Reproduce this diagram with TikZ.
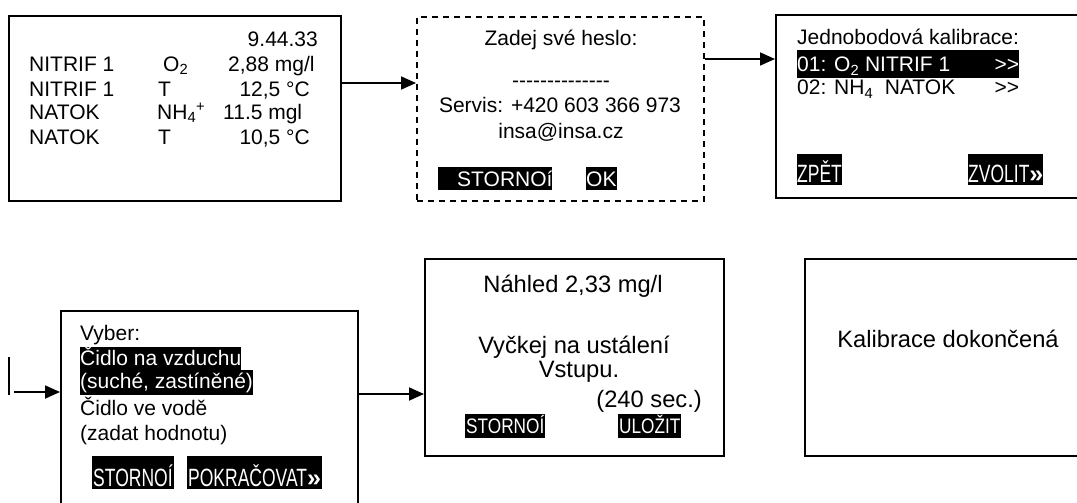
\documentclass[tikz,border=0pt]{standalone}
\usepackage{fontspec}
\setmainfont{Liberation Sans}
\usepackage{graphicx}
\usetikzlibrary{shapes,arrows,arrows.meta,positioning}

\newcommand\fs{\fontsize{21}{25}\selectfont}
\newcommand\fb{\fontsize{23.7}{28}\selectfont}
\newcommand\fn{\fontsize{25}{28}\selectfont}
\newcommand\narrow[1]{\scalebox{0.82}[1]{#1}}
\newcommand\slim[1]{\scalebox{0.7}[1]{\fn #1}}
\newcommand\dbl{{\fontsize{25}{25}\selectfont\textbf{»}}}
\newcommand\dd{\mbox{-}\mbox{-}}
\newcommand\gt{\mbox{>}\mbox{>}}

\tikzset{
  screen/.style={draw, line width=1.8pt, inner sep=0pt, anchor=north west},
  txt/.style={anchor=base west, inner sep=0pt, font=\fs},
  ctxt/.style={anchor=base, inner sep=0pt, font=\fs},
  hl/.style={txt, fill=black, text=white},
  btn/.style={hl, inner xsep=1pt},
  arr/.style={line width=1.8pt, -{Triangle[length=15pt,width=13pt]}}
}

\begin{document}
\begin{tikzpicture}[x=1pt,y=-1pt]
  \useasboundingbox (0,0) rectangle (1077,503);

  \node[screen, minimum width=332pt, minimum height=185pt] (status) at (8,15) {};
  \node[screen, dash pattern=on 6pt off 5pt, minimum width=287pt, minimum height=184pt] (heslo) at (416,16) {};
  \node[screen, minimum width=320pt, minimum height=183pt] (volba) at (775,14) {};
  \node[screen, minimum width=297pt, minimum height=220pt] (vyber) at (60,310) {};
  \node[screen, minimum width=299pt, minimum height=197pt] (nahled) at (424,258) {};
  \node[screen, minimum width=290pt, minimum height=197pt] (hotovo) at (804,258) {};

  \node[txt, anchor=base east] (cas) at (318,47) {9.44.33};
  \node[txt] (m1) at (29,71) {NITRIF 1};
  \node[txt] (m2) at (29,96) {NITRIF 1};
  \node[txt] (m3) at (29,119) {NATOK};
  \node[txt] (m4) at (29,144) {NATOK};
  \node[txt] (v1) at (163,71) {O\textsubscript{2}};
  \node[txt] (v2) at (158,96) {T};
  \node[txt] (v3) at (157,119) {NH\textsubscript{4}\textsuperscript{+}};
  \node[txt] (v4) at (158,144) {T};
  \node[txt] (h1) at (228,71) {2,88 mg/l};
  \node[txt, anchor=base east] (h2) at (310,96) {12,5 °C};
  \node[txt] (h3) at (223,119) {11.5 mgl};
  \node[txt, anchor=base east] (h4) at (310,144) {10,5 °C};

  \node[ctxt] (zadej) at (561,46) {Zadej své heslo:};
  \node[ctxt] (pole) at (561,88) {\dd\dd\dd\dd\dd\dd\dd};
  \node[ctxt] (servis) at (560,113) {Servis: +420 603 366 973};
  \node[ctxt] (mail) at (561,138) {insa@insa.cz};
  \node[hl, text height=19pt, text depth=4pt] (storno1) at (438,186) {\hspace*{19pt}STORNOí};
  \node[hl, text height=19pt, text depth=4pt] (ok) at (586,186) {OK};

  \node[txt] (jedno) at (797,45) {Jednobodová kalibrace:};
  \node[hl, text height=22pt, text depth=6pt] (r1) at (797,72)
    {\makebox[222pt][l]{01: O\textsubscript{2} NITRIF 1\hfill \gt}};
  \node[txt] (r2) at (797,95)
    {\makebox[222pt][l]{02: NH\textsubscript{4}\ \ NATOK\hfill \gt}};
  \node[hl, text height=28pt, text depth=3pt] (zpet) at (797,182) {\slim{ZPĚT}};
  \node[hl, text height=28pt, text depth=3pt] (zvolit) at (968,182) {\slim{ZVOLIT}\dbl};

  \node[txt] (vyb) at (80,340) {Vyber:};
  \node[hl, text height=18pt, text depth=5pt] (c1) at (80,365) {Čidlo na vzduchu};
  \node[hl, text height=18pt, text depth=7pt] (c2) at (80,388) {(suché, zastíněné)};
  \node[txt] (c3) at (80,415) {Čidlo ve vodě};
  \node[txt] (c4) at (80,440) {(zadat hodnotu)};
  \node[btn, text height=30pt, text depth=3pt] (storno2) at (92,486) {\slim{STORNOÍ}};
  \node[btn, text height=30pt, text depth=3pt] (dal) at (187,486) {\slim{POKRAČOVAT}\dbl};

  \node[ctxt, font=\fb] (nahl) at (573,292) {Náhled 2,33 mg/l};
  \node[ctxt, font=\fb] (cekej) at (574,353) {Vyčkej na ustálení};
  \node[ctxt, font=\fb] (vstup) at (579,377) {Vstupu.};
  \node[txt, font=\fb, anchor=base east] (sec) at (702,407) {(240 sec.)};
  \node[btn, text height=19pt, text depth=5pt] (storno3) at (465,433) {\narrow{STORNOÍ}};
  \node[btn, text height=19pt, text depth=5pt] (ulozit) at (618,433) {\narrow{ULOŽIT}};

  \node[ctxt, font=\fb] (konec) at (948,347) {Kalibrace dokončená};

  \coordinate (t1) at (9,357);
  \coordinate (t2) at (9,395);
  \coordinate (a0) at (14,392);

  \draw[arr] (status.east |- 0,83) -- (heslo.west |- 0,83);
  \draw[arr] (heslo.east |- 0,59) -- (volba.west |- 0,59);
  \draw[line width=1.8pt] (t1) -- (t2);
  \draw[arr] (a0) -- (a0 -| vyber.west);
  \draw[arr] (vyber.east |- 0,394) -- (nahled.west |- 0,394);
\end{tikzpicture}
\end{document}
